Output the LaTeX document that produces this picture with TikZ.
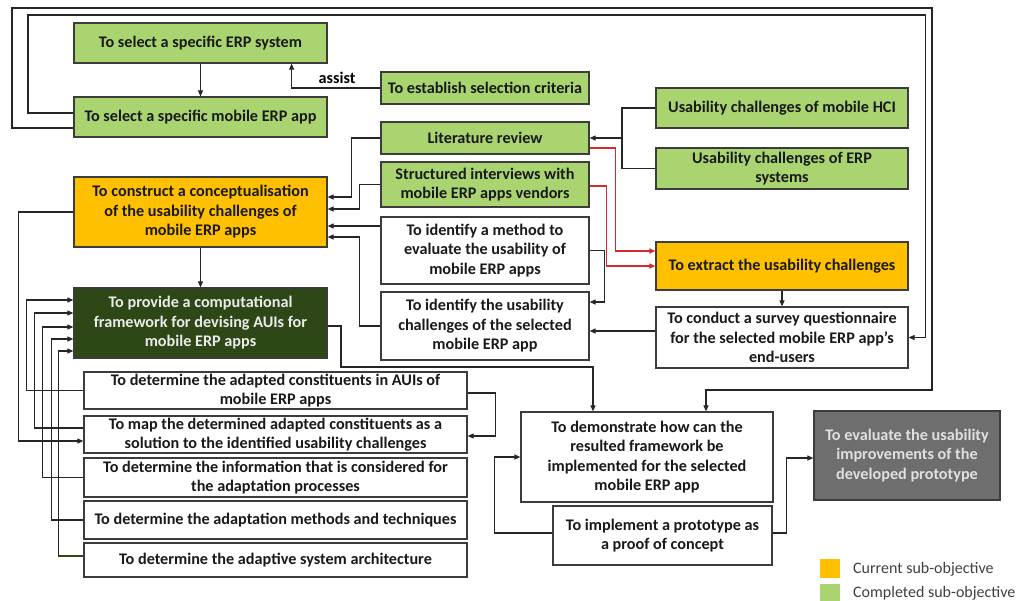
\documentclass[tikz,border=0pt]{standalone}
\usepackage{fontspec}
\setmainfont{Carlito}
\usetikzlibrary{arrows.meta}
\definecolor{donegreen}{HTML}{A9D470}
\definecolor{curorange}{HTML}{FFC000}
\definecolor{deepgreen}{HTML}{2E4716}
\definecolor{evalgray}{HTML}{6E6E6E}
\definecolor{edge}{HTML}{3C3C3C}
\definecolor{flowred}{HTML}{D42A2A}
\tikzset{
  box/.style={draw=edge, line width=1.2pt, inner sep=0pt, align=center,
    font=\fontsize{16.2}{19.5}\selectfont\bfseries, text=black!90},
  done/.style={box, fill=donegreen},
  current/.style={box, fill=curorange},
  plain/.style={box, fill=white},
  arr/.style={line width=1.1pt, draw=black!85, -{Triangle[length=6pt,width=5pt]}},
  link/.style={line width=1.1pt, draw=black!85},
  redarr/.style={line width=1.1pt, draw=flowred, -{Triangle[length=6pt,width=5pt]}, color=flowred},
  legend/.style={anchor=west, inner sep=0pt, font=\fontsize{16}{18}\selectfont, text=black!75}
}
\begin{document}
\begin{tikzpicture}[x=1pt,y=-1pt]
\useasboundingbox (0,0) rectangle (1017,600);

% ---- selection column
\node[done, minimum width=253pt, minimum height=40pt] (sel) at (200.5,43) {To select a specific ERP system};
\node[done, minimum width=253pt, minimum height=40pt] (mob) at (200.5,117) {To select a specific mobile ERP app};
\node[done, minimum width=208pt, minimum height=32pt] (crit) at (485,88) {To establish selection criteria};

% ---- sources of usability challenges
\node[done, minimum width=252pt, minimum height=40pt] (hci) at (782,108) {Usability challenges of mobile HCI};
\node[done, minimum width=252pt, minimum height=41pt] (erps) at (782,168.5) {Usability challenges of ERP\\systems};
\node[done, minimum width=208pt, minimum height=32pt] (lit) at (485,138) {Literature review};
\node[done, minimum width=208pt, minimum height=45pt] (intv) at (485,184.5) {Structured interviews with\\mobile ERP apps vendors};
\node[plain, minimum width=208pt, minimum height=67pt] (meth) at (485,250.5) {To identify a method to\\evaluate the usability of\\mobile ERP apps};
\node[plain, minimum width=208pt, minimum height=68pt] (chal) at (485,326) {To identify the usability\\challenges of the selected\\mobile ERP app};

% ---- main chain
\node[current, minimum width=253pt, minimum height=70pt] (conc) at (200.5,212) {To construct a conceptualisation\\of the usability challenges of\\mobile ERP apps};
\node[box, fill=deepgreen, text=white!92!black, minimum width=253pt, minimum height=70pt] (fw) at (200.5,323) {To provide a computational\\framework for devising AUIs for\\mobile ERP apps};
\node[current, minimum width=252pt, minimum height=48pt] (extr) at (782,266) {To extract the usability challenges};
\node[plain, minimum width=252pt, minimum height=61pt] (surv) at (782,337.5) {To conduct a survey questionnaire\\for the selected mobile ERP app’s\\end-users};

% ---- framework components
\node[plain, minimum width=383pt, minimum height=37pt] (d1) at (275.5,390.5) {To determine the adapted constituents in AUIs of\\mobile ERP apps};
\node[plain, minimum width=383pt, minimum height=37pt] (d2) at (275.5,434.5) {To map the determined adapted constituents as a\\solution to the identified usability challenges};
\node[plain, minimum width=383pt, minimum height=39pt] (d3) at (275.5,477.5) {To determine the information that is considered for\\the adaptation processes};
\node[plain, minimum width=383pt, minimum height=38pt] (d4) at (275.5,520) {To determine the adaptation methods and techniques};
\node[plain, minimum width=383pt, minimum height=34pt] (d5) at (275.5,560) {To determine the adaptive system architecture};

% ---- demonstration and evaluation
\node[plain, minimum width=252pt, minimum height=90pt] (demo) at (647,457) {To demonstrate how can the\\resulted framework be\\implemented for the selected\\mobile ERP app};
\node[plain, minimum width=219pt, minimum height=59pt] (proto) at (662.5,535.5) {To implement a prototype as\\a proof of concept};
\node[box, fill=evalgray, text=white!88!black, minimum width=186pt, minimum height=89pt] (eval) at (907,455.5) {To evaluate the usability\\improvements of the\\developed prototype};

% ---- legend
\node[fill=curorange, inner sep=0pt, minimum width=20pt, minimum height=19pt] (lgcur) at (830,568.5) {};
\node[legend] (lgcurt) at (853,569) {Current sub-objective};
\node[fill=donegreen, inner sep=0pt, minimum width=20pt, minimum height=19pt] (lgdone) at (830,593.5) {};
\node[legend] (lgdonet) at (853,593) {Completed sub-objective};

% ---- loop corners
\coordinate (outerL) at (12,8);
\coordinate (outerR) at (932,390);
\coordinate (innerL) at (28,15);
\coordinate (fwbend) at (341,367);
\coordinate (srcjoin) at (622,138);

% ---- connectors
\draw[arr] (sel.south) -- (mob.north);
\draw[arr] (crit.west) -| ([xshift=-36pt]sel.south east);
\node[font=\fontsize{16.2}{18}\selectfont\bfseries, inner sep=0pt] (assist) at (337,78) {assist};

\draw[arr] ([yshift=4pt]mob.west) -| (innerL) -| ([xshift=17pt]surv.east) -- (surv.east);
\draw[arr] ([yshift=-11pt]mob.west) -| (outerL) -| (outerR) -| ([xshift=59pt]demo.north);

\draw[link] (hci.west) -| (srcjoin);
\draw[link] (erps.west) -| (srcjoin);
\draw[arr] (srcjoin) -- (lit.east);

\coordinate (cin1) at ([yshift=15pt]conc.east);
\coordinate (cin2) at ([yshift=3pt]conc.east);
\coordinate (cin3) at ([yshift=-14pt]conc.east);
\coordinate (cin4) at ([yshift=-25pt]conc.east);
\draw[arr] (lit.west) -| ([xshift=24pt]cin1) -- (cin1);
\draw[arr] (intv.west) -| ([xshift=32pt]cin2) -- (cin2);
\draw[arr] (cin3 -| meth.west) -- (cin3);
\draw[arr] (chal.west) -| ([xshift=32pt]cin4) -- (cin4);

\draw[redarr] ([yshift=-10pt]lit.east) -| ([xshift=-40pt,yshift=15pt]extr.west) -- ([yshift=15pt]extr.west);
\draw[redarr] ([yshift=-1.5pt]intv.east) -| ([xshift=-49pt]extr.west) -- (extr.west);

\draw[arr] (meth.east) -| ([xshift=15pt,yshift=24pt]chal.east) -- ([yshift=24pt]chal.east);
\draw[arr] (extr.south) -- (surv.north);
\coordinate (sout) at ([yshift=6.5pt]surv.west);
\draw[arr] (sout) -- (sout -| chal.east);

\draw[arr] (conc.south) -- (fw.north);
\draw[arr] (conc.west) -| ([xshift=-65pt,yshift=-6.5pt]d2.west) -- ([yshift=-6.5pt]d2.west);
\draw[arr] ([yshift=-3pt]fw.east) -| (fwbend) -| ([xshift=-54pt]demo.north);

\coordinate (fin1) at ([yshift=23pt]fw.west);
\coordinate (fin2) at ([yshift=10pt]fw.west);
\coordinate (fin3) at ([yshift=-4pt]fw.west);
\coordinate (fin4) at ([yshift=-16pt]fw.west);
\coordinate (fin5) at ([yshift=-28pt]fw.west);
\draw[arr] (d1.west) -| ([xshift=-47pt]fin1) -- (fin1);
\draw[arr] ([yshift=6.5pt]d2.west) -| ([xshift=-39pt]fin2) -- (fin2);
\draw[arr] (d3.west) -| ([xshift=-31pt]fin3) -- (fin3);
\draw[arr] (d4.west) -| ([xshift=-22pt]fin4) -- (fin4);
% the architecture link leaves its box in dark green
\coordinate (d5out) at ([yshift=4pt]d5.west);
\path (d5out -| fin5) ++(-15pt,0) coordinate (d5turn);
\draw[link, draw=deepgreen] (d5out) -- (d5turn);
\draw[arr] (d5turn) |- (fin5);

\draw[arr] ([yshift=-2.5pt]d1.east) -| ([xshift=28pt,yshift=-1.5pt]d2.east) -- ([yshift=-1.5pt]d2.east);
\draw[arr] ([yshift=2.5pt]proto.west) -| ([xshift=-26pt]demo.west) -- (demo.west);
\draw[arr] ([yshift=2.5pt]proto.east) -| ([xshift=-27pt,yshift=-2.5pt]eval.west) -- ([yshift=-2.5pt]eval.west);
\end{tikzpicture}
\end{document}
